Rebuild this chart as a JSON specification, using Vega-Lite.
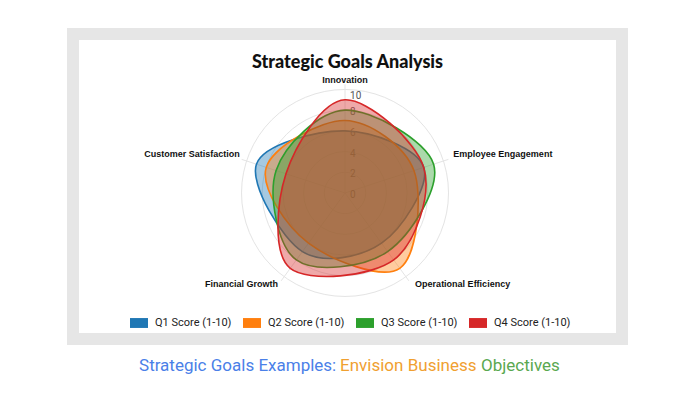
{
  "$schema": "https://vega.github.io/schema/vega-lite/v6.json",
  "width": 549,
  "height": 305,
  "autosize": {"type": "none"},
  "padding": {"left": 73, "top": 34, "right": 76, "bottom": 61},
  "background": "white",
  "config": {"view": {"stroke": "#e6e6e6", "strokeWidth": 12, "fill": "white"}},
  "title": {"text": "Strategic Goals Analysis", "font": "Lato", "fontSize": 18, "fontWeight": 900, "color": "#111111", "anchor": "middle", "frame": "group", "offset": -38},
  "datasets": {
    "scores": [
      {"quarter": "Q1 Score (1-10)", "goal": "Innovation", "score": 6},
      {"quarter": "Q1 Score (1-10)", "goal": "Employee Engagement", "score": 8},
      {"quarter": "Q1 Score (1-10)", "goal": "Operational Efficiency", "score": 6},
      {"quarter": "Q1 Score (1-10)", "goal": "Financial Growth", "score": 7},
      {"quarter": "Q1 Score (1-10)", "goal": "Customer Satisfaction", "score": 9},
      {"quarter": "Q2 Score (1-10)", "goal": "Innovation", "score": 7},
      {"quarter": "Q2 Score (1-10)", "goal": "Employee Engagement", "score": 7},
      {"quarter": "Q2 Score (1-10)", "goal": "Operational Efficiency", "score": 9},
      {"quarter": "Q2 Score (1-10)", "goal": "Financial Growth", "score": 6},
      {"quarter": "Q2 Score (1-10)", "goal": "Customer Satisfaction", "score": 8},
      {"quarter": "Q3 Score (1-10)", "goal": "Innovation", "score": 8},
      {"quarter": "Q3 Score (1-10)", "goal": "Employee Engagement", "score": 9},
      {"quarter": "Q3 Score (1-10)", "goal": "Operational Efficiency", "score": 7},
      {"quarter": "Q3 Score (1-10)", "goal": "Financial Growth", "score": 8},
      {"quarter": "Q3 Score (1-10)", "goal": "Customer Satisfaction", "score": 7},
      {"quarter": "Q4 Score (1-10)", "goal": "Innovation", "score": 9},
      {"quarter": "Q4 Score (1-10)", "goal": "Employee Engagement", "score": 8},
      {"quarter": "Q4 Score (1-10)", "goal": "Operational Efficiency", "score": 8},
      {"quarter": "Q4 Score (1-10)", "goal": "Financial Growth", "score": 9},
      {"quarter": "Q4 Score (1-10)", "goal": "Customer Satisfaction", "score": 6}
    ],
    "goals": [
      {"goal": "Innovation"},
      {"goal": "Employee Engagement"},
      {"goal": "Operational Efficiency"},
      {"goal": "Financial Growth"},
      {"goal": "Customer Satisfaction"}
    ],
    "rings": [{"ring": 2}, {"ring": 4}, {"ring": 6}, {"ring": 8}, {"ring": 10}],
    "ticks": [{"t": 0}, {"t": 2}, {"t": 4}, {"t": 6}, {"t": 8}, {"t": 10}],
    "caption": [
      {"part": "Strategic Goals Examples:"},
      {"part": "Envision Business"},
      {"part": "Objectives"}
    ]
  },
  "layer": [
    {
      "data": {"name": "rings"},
      "transform": [{"calculate": "0", "as": "o"}],
      "mark": {"type": "point", "shape": "circle", "filled": false, "color": "#e4e4e4", "strokeWidth": 1, "opacity": 1},
      "encoding": {
        "x": {"field": "o", "type": "quantitative", "scale": {"domain": [-26.28, 26.76], "nice": false, "zero": false}, "axis": null},
        "y": {"field": "o", "type": "quantitative", "scale": {"domain": [-14.11, 15.36], "nice": false, "zero": false}, "axis": null},
        "size": {"field": "ring", "type": "quantitative", "scale": {"type": "pow", "exponent": 2, "domain": [0, 10], "range": [0, 42849]}, "legend": null}
      }
    },
    {
      "data": {"name": "goals"},
      "transform": [
        {"calculate": "indexof(['Innovation','Employee Engagement','Operational Efficiency','Financial Growth','Customer Satisfaction'], datum.goal) * 2 * PI / 5", "as": "ang"},
        {"calculate": "10.5 * sin(datum.ang)", "as": "ex"},
        {"calculate": "10.5 * cos(datum.ang)", "as": "ey"},
        {"calculate": "0", "as": "o"}
      ],
      "mark": {"type": "rule", "color": "#e4e4e4", "strokeWidth": 1},
      "encoding": {
        "x": {"field": "o", "type": "quantitative", "scale": {"domain": [-26.28, 26.76], "nice": false, "zero": false}, "axis": null},
        "y": {"field": "o", "type": "quantitative", "scale": {"domain": [-14.11, 15.36], "nice": false, "zero": false}, "axis": null},
        "x2": {"field": "ex"},
        "y2": {"field": "ey"}
      }
    },
    {
      "data": {"name": "ticks"},
      "transform": [{"filter": "datum.t < 10"}, {"calculate": "0", "as": "o"}],
      "mark": {"type": "text", "align": "left", "baseline": "middle", "dx": 5, "dy": 2, "font": "Roboto", "fontSize": 10, "color": "#666666"},
      "encoding": {
        "x": {"field": "o", "type": "quantitative", "scale": {"domain": [-26.28, 26.76], "nice": false, "zero": false}, "axis": null},
        "y": {"field": "t", "type": "quantitative", "scale": {"domain": [-14.11, 15.36], "nice": false, "zero": false}, "axis": null},
        "text": {"field": "t", "type": "quantitative"}
      }
    },
    {
      "data": {"name": "ticks"},
      "transform": [{"filter": "datum.t === 10"}, {"calculate": "0", "as": "o"}],
      "mark": {"type": "text", "align": "left", "baseline": "middle", "dx": 5, "dy": 7, "font": "Roboto", "fontSize": 10, "color": "#555555"},
      "encoding": {
        "x": {"field": "o", "type": "quantitative", "scale": {"domain": [-26.28, 26.76], "nice": false, "zero": false}, "axis": null},
        "y": {"field": "t", "type": "quantitative", "scale": {"domain": [-14.11, 15.36], "nice": false, "zero": false}, "axis": null},
        "text": {"field": "t", "type": "quantitative"}
      }
    },
    {
      "data": {"name": "scores"},
      "transform": [
        {"calculate": "indexof(['Innovation','Employee Engagement','Operational Efficiency','Financial Growth','Customer Satisfaction'], datum.goal)", "as": "idx"},
        {"calculate": "datum.idx * 2 * PI / 5", "as": "ang"},
        {"calculate": "datum.score * sin(datum.ang)", "as": "px"},
        {"calculate": "datum.score * cos(datum.ang)", "as": "py"}
      ],
      "mark": {"type": "line", "interpolate": "cardinal-closed", "fillOpacity": 0.4, "strokeWidth": 1.6},
      "encoding": {
        "x": {"field": "px", "type": "quantitative", "scale": {"domain": [-26.28, 26.76], "nice": false, "zero": false}, "axis": null},
        "y": {"field": "py", "type": "quantitative", "scale": {"domain": [-14.11, 15.36], "nice": false, "zero": false}, "axis": null},
        "order": {"field": "idx", "type": "quantitative"},
        "stroke": {"field": "quarter", "type": "nominal", "scale": {"range": ["#1f77b4", "#ff7f0e", "#2ca02c", "#d62728"]}, "legend": null},
        "fill": {"field": "quarter", "type": "nominal", "scale": {"range": ["#1f77b4", "#ff7f0e", "#2ca02c", "#d62728"]},
          "legend": {"orient": "none", "legendX": 57, "legendY": 280, "direction": "horizontal", "title": null, "symbolType": "M-1,-0.55H1V0.55H-1Z", "symbolSize": 324, "symbolOpacity": 1, "symbolStrokeWidth": 0, "labelFont": "Roboto", "labelFontSize": 11, "labelColor": "#222222", "labelOffset": 7, "columnPadding": 11, "padding": 0}}
      }
    },
    {
      "data": {"name": "goals"},
      "transform": [
        {"calculate": "indexof(['Innovation','Employee Engagement','Operational Efficiency','Financial Growth','Customer Satisfaction'], datum.goal) * 2 * PI / 5", "as": "ang"},
        {"calculate": "10.7 * sin(datum.ang)", "as": "lx"},
        {"calculate": "10.7 * cos(datum.ang)", "as": "ly"},
        {"filter": "datum.goal === 'Innovation'"}
      ],
      "mark": {"type": "text", "align": "center", "baseline": "middle", "dy": -2, "font": "Liberation Sans", "fontWeight": "bold", "fontSize": 9, "color": "#111111"},
      "encoding": {
        "x": {"field": "lx", "type": "quantitative", "scale": {"domain": [-26.28, 26.76], "nice": false, "zero": false}, "axis": null},
        "y": {"field": "ly", "type": "quantitative", "scale": {"domain": [-14.11, 15.36], "nice": false, "zero": false}, "axis": null},
        "text": {"field": "goal", "type": "nominal"}
      }
    },
    {
      "data": {"name": "goals"},
      "transform": [
        {"calculate": "indexof(['Innovation','Employee Engagement','Operational Efficiency','Financial Growth','Customer Satisfaction'], datum.goal) * 2 * PI / 5", "as": "ang"},
        {"calculate": "10.7 * sin(datum.ang)", "as": "lx"},
        {"calculate": "10.7 * cos(datum.ang)", "as": "ly"},
        {"filter": "datum.goal === 'Employee Engagement'"}
      ],
      "mark": {"type": "text", "align": "left", "baseline": "middle", "dx": 3, "dy": -5, "font": "Liberation Sans", "fontWeight": "bold", "fontSize": 9, "color": "#111111"},
      "encoding": {
        "x": {"field": "lx", "type": "quantitative", "scale": {"domain": [-26.28, 26.76], "nice": false, "zero": false}, "axis": null},
        "y": {"field": "ly", "type": "quantitative", "scale": {"domain": [-14.11, 15.36], "nice": false, "zero": false}, "axis": null},
        "text": {"field": "goal", "type": "nominal"}
      }
    },
    {
      "data": {"name": "goals"},
      "transform": [
        {"calculate": "indexof(['Innovation','Employee Engagement','Operational Efficiency','Financial Growth','Customer Satisfaction'], datum.goal) * 2 * PI / 5", "as": "ang"},
        {"calculate": "10.7 * sin(datum.ang)", "as": "lx"},
        {"calculate": "10.7 * cos(datum.ang)", "as": "ly"},
        {"filter": "datum.goal === 'Operational Efficiency'"}
      ],
      "mark": {"type": "text", "align": "left", "baseline": "middle", "dx": 5, "dy": 1, "font": "Liberation Sans", "fontWeight": "bold", "fontSize": 9, "color": "#111111"},
      "encoding": {
        "x": {"field": "lx", "type": "quantitative", "scale": {"domain": [-26.28, 26.76], "nice": false, "zero": false}, "axis": null},
        "y": {"field": "ly", "type": "quantitative", "scale": {"domain": [-14.11, 15.36], "nice": false, "zero": false}, "axis": null},
        "text": {"field": "goal", "type": "nominal"}
      }
    },
    {
      "data": {"name": "goals"},
      "transform": [
        {"calculate": "indexof(['Innovation','Employee Engagement','Operational Efficiency','Financial Growth','Customer Satisfaction'], datum.goal) * 2 * PI / 5", "as": "ang"},
        {"calculate": "10.7 * sin(datum.ang)", "as": "lx"},
        {"calculate": "10.7 * cos(datum.ang)", "as": "ly"},
        {"filter": "datum.goal === 'Financial Growth'"}
      ],
      "mark": {"type": "text", "align": "right", "baseline": "middle", "dx": -2, "dy": 1, "font": "Liberation Sans", "fontWeight": "bold", "fontSize": 9, "color": "#111111"},
      "encoding": {
        "x": {"field": "lx", "type": "quantitative", "scale": {"domain": [-26.28, 26.76], "nice": false, "zero": false}, "axis": null},
        "y": {"field": "ly", "type": "quantitative", "scale": {"domain": [-14.11, 15.36], "nice": false, "zero": false}, "axis": null},
        "text": {"field": "goal", "type": "nominal"}
      }
    },
    {
      "data": {"name": "goals"},
      "transform": [
        {"calculate": "indexof(['Innovation','Employee Engagement','Operational Efficiency','Financial Growth','Customer Satisfaction'], datum.goal) * 2 * PI / 5", "as": "ang"},
        {"calculate": "10.7 * sin(datum.ang)", "as": "lx"},
        {"calculate": "10.7 * cos(datum.ang)", "as": "ly"},
        {"filter": "datum.goal === 'Customer Satisfaction'"}
      ],
      "mark": {"type": "text", "align": "right", "baseline": "middle", "dx": 0, "dy": -5, "font": "Liberation Sans", "fontWeight": "bold", "fontSize": 9, "color": "#111111"},
      "encoding": {
        "x": {"field": "lx", "type": "quantitative", "scale": {"domain": [-26.28, 26.76], "nice": false, "zero": false}, "axis": null},
        "y": {"field": "ly", "type": "quantitative", "scale": {"domain": [-14.11, 15.36], "nice": false, "zero": false}, "axis": null},
        "text": {"field": "goal", "type": "nominal"}
      }
    },
    {
      "data": {"name": "caption"},
      "transform": [
        {"filter": "datum.part === 'Strategic Goals Examples:'"},
        {"calculate": "-19.9", "as": "cx"},
        {"calculate": "-16.71", "as": "cy"}
      ],
      "mark": {"type": "text", "align": "left", "baseline": "middle", "font": "Roboto", "fontSize": 17, "color": "#4a80e8"},
      "encoding": {
        "x": {"field": "cx", "type": "quantitative", "scale": {"domain": [-26.28, 26.76], "nice": false, "zero": false}, "axis": null},
        "y": {"field": "cy", "type": "quantitative", "scale": {"domain": [-14.11, 15.36], "nice": false, "zero": false}, "axis": null},
        "text": {"field": "part", "type": "nominal"}
      }
    },
    {
      "data": {"name": "caption"},
      "transform": [
        {"filter": "datum.part === 'Envision Business'"},
        {"calculate": "-0.48", "as": "cx"},
        {"calculate": "-16.71", "as": "cy"}
      ],
      "mark": {"type": "text", "align": "left", "baseline": "middle", "font": "Roboto", "fontSize": 17, "color": "#f0a030"},
      "encoding": {
        "x": {"field": "cx", "type": "quantitative", "scale": {"domain": [-26.28, 26.76], "nice": false, "zero": false}, "axis": null},
        "y": {"field": "cy", "type": "quantitative", "scale": {"domain": [-14.11, 15.36], "nice": false, "zero": false}, "axis": null},
        "text": {"field": "part", "type": "nominal"}
      }
    },
    {
      "data": {"name": "caption"},
      "transform": [
        {"filter": "datum.part === 'Objectives'"},
        {"calculate": "13.14", "as": "cx"},
        {"calculate": "-16.71", "as": "cy"}
      ],
      "mark": {"type": "text", "align": "left", "baseline": "middle", "font": "Roboto", "fontSize": 17, "color": "#5aa850"},
      "encoding": {
        "x": {"field": "cx", "type": "quantitative", "scale": {"domain": [-26.28, 26.76], "nice": false, "zero": false}, "axis": null},
        "y": {"field": "cy", "type": "quantitative", "scale": {"domain": [-14.11, 15.36], "nice": false, "zero": false}, "axis": null},
        "text": {"field": "part", "type": "nominal"}
      }
    }
  ]
}
